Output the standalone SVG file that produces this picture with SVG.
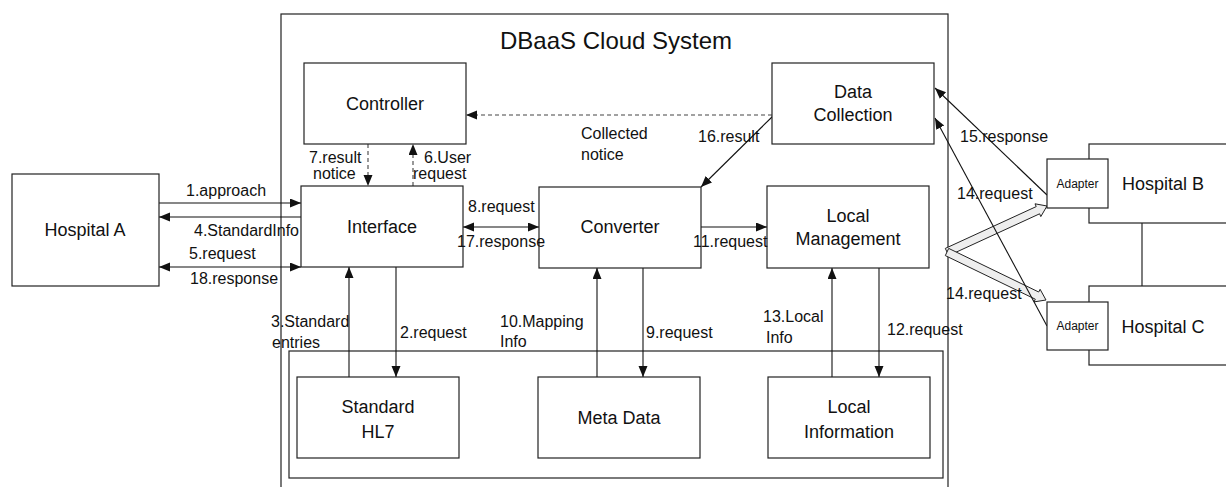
<svg xmlns="http://www.w3.org/2000/svg" width="1226" height="487" viewBox="0 0 1226 487">
  <style>
    .box { fill: #fff; stroke: #222; stroke-width: 1.2; }
    .frame { fill: none; stroke: #222; stroke-width: 1.2; }
    .ln { fill: none; stroke: #111; stroke-width: 1.1; }
    .dash { fill: none; stroke: #444; stroke-width: 1.1; stroke-dasharray: 4 3; }
    .fat { fill: #eeeeee; stroke: #222; stroke-width: 1; }
    .node { font-family: "Liberation Sans", Arial, sans-serif; font-size: 18px; fill: #111; text-anchor: middle; }
    .title { font-family: "Liberation Sans", Arial, sans-serif; font-size: 24px; fill: #111; }
    .lbl { font-family: "Liberation Sans", Arial, sans-serif; font-size: 16px; fill: #111; }
    .small { font-family: "Liberation Sans", Arial, sans-serif; font-size: 12px; fill: #111; text-anchor: middle; }
  </style>
  <defs>
    <marker id="arr" markerUnits="userSpaceOnUse" markerWidth="12" markerHeight="10" refX="11" refY="4.5" orient="auto-start-reverse">
      <path d="M0,0 L11,4.5 L0,9 z" fill="#111"/>
    </marker>
  </defs>

  <rect width="1226" height="487" fill="#fff"/>

  <!-- cloud system frame and storage container -->
  <g id="dbaas-system">
    <rect class="frame" x="281" y="14" width="667" height="490"/>
    <text class="title" x="500" y="49">DBaaS Cloud System</text>
  </g>
  <g id="storage">
    <rect class="frame" x="289" y="351" width="654" height="127"/>
  </g>

  <!-- connectors -->
  <g id="connectors">
    <!-- Hospital A <-> Interface -->
    <line class="ln" x1="159" y1="203" x2="301" y2="203" marker-end="url(#arr)"/>
    <line class="ln" x1="301" y1="217" x2="159" y2="217" marker-end="url(#arr)"/>
    <line class="ln" x1="159" y1="267" x2="301" y2="267" marker-start="url(#arr)" marker-end="url(#arr)"/>

    <!-- Controller <-> Interface -->
    <line class="dash" x1="368" y1="144" x2="368" y2="186" marker-end="url(#arr)"/>
    <line class="dash" x1="413" y1="186" x2="413" y2="144" marker-end="url(#arr)"/>

    <!-- Data Collection -> Controller / Converter -->
    <line class="dash" x1="772" y1="115" x2="466" y2="115" marker-end="url(#arr)"/>
    <line class="ln" x1="773" y1="116" x2="701" y2="187" marker-end="url(#arr)"/>

    <!-- Interface <-> Converter -> Local Management -->
    <line class="ln" x1="463" y1="227" x2="539" y2="227" marker-start="url(#arr)" marker-end="url(#arr)"/>
    <line class="ln" x1="701" y1="227" x2="767" y2="227" marker-end="url(#arr)"/>

    <!-- service boxes <-> storage boxes -->
    <line class="ln" x1="349" y1="377" x2="349" y2="267" marker-end="url(#arr)"/>
    <line class="ln" x1="396" y1="267" x2="396" y2="377" marker-end="url(#arr)"/>
    <line class="ln" x1="597" y1="377" x2="597" y2="268" marker-end="url(#arr)"/>
    <line class="ln" x1="643" y1="268" x2="643" y2="377" marker-end="url(#arr)"/>
    <line class="ln" x1="832" y1="377" x2="832" y2="268" marker-end="url(#arr)"/>
    <line class="ln" x1="879" y1="268" x2="879" y2="377" marker-end="url(#arr)"/>

    <!-- broadcast to remote adapters -->
    <polygon class="fat" points="948.7,255.6 1039.6,213.8 1040.8,216.6 1047,206 1035.0,203.8 1036.2,206.6 945.3,248.4"/>
    <polygon class="fat" points="945.3,255.6 1035.3,299.2 1034.0,301.9 1046,300 1040.1,289.3 1038.7,292.0 948.7,248.4"/>
    <line class="ln" x1="1047" y1="195" x2="935" y2="88" marker-end="url(#arr)"/>
    <line class="ln" x1="1047" y1="326" x2="935" y2="118" marker-end="url(#arr)"/>

    <!-- link between remote hospitals -->
    <line class="ln" x1="1142" y1="223" x2="1142" y2="286"/>
  </g>

  <!-- nodes -->
  <g id="hospital-a">
    <rect class="box" x="12" y="174" width="147" height="112"/>
    <text class="node" x="85" y="236">Hospital A</text>
  </g>
  <g id="controller">
    <rect class="box" x="304" y="63" width="162" height="81"/>
    <text class="node" x="385" y="110">Controller</text>
  </g>
  <g id="data-collection">
    <rect class="box" x="772" y="63" width="162" height="81"/>
    <text class="node" x="853" y="98">Data</text>
    <text class="node" x="853" y="121">Collection</text>
  </g>
  <g id="interface">
    <rect class="box" x="301" y="186" width="162" height="81"/>
    <text class="node" x="382" y="233">Interface</text>
  </g>
  <g id="converter">
    <rect class="box" x="539" y="187" width="162" height="81"/>
    <text class="node" x="620" y="233">Converter</text>
  </g>
  <g id="local-management">
    <rect class="box" x="767" y="186" width="162" height="82"/>
    <text class="node" x="848" y="222">Local</text>
    <text class="node" x="848" y="245">Management</text>
  </g>
  <g id="standard-hl7">
    <rect class="box" x="297" y="377" width="162" height="81"/>
    <text class="node" x="378" y="413">Standard</text>
    <text class="node" x="378" y="438">HL7</text>
  </g>
  <g id="meta-data">
    <rect class="box" x="538" y="377" width="162" height="81"/>
    <text class="node" x="619" y="424">Meta Data</text>
  </g>
  <g id="local-information">
    <rect class="box" x="768" y="377" width="162" height="81"/>
    <text class="node" x="849" y="413">Local</text>
    <text class="node" x="849" y="438">Information</text>
  </g>
  <g id="hospital-b">
    <rect class="box" x="1089" y="144" width="150" height="79"/>
    <text class="node" x="1163" y="190">Hospital B</text>
    <rect class="box" x="1047" y="159" width="61" height="49"/>
    <text class="small" x="1077.5" y="188">Adapter</text>
  </g>
  <g id="hospital-c">
    <rect class="box" x="1089" y="286" width="150" height="79"/>
    <text class="node" x="1163" y="333">Hospital C</text>
    <rect class="box" x="1047" y="302" width="61" height="48"/>
    <text class="small" x="1077.5" y="330">Adapter</text>
  </g>

  <!-- connector labels, drawn over the box outlines -->
  <g id="connector-labels">
    <text class="lbl" x="186" y="196">1.approach</text>
    <text class="lbl" x="194" y="236">4.StandardInfo</text>
    <text class="lbl" x="189" y="259">5.request</text>
    <text class="lbl" x="190" y="284">18.response</text>
    <text class="lbl" x="309" y="163">7.result</text>
    <text class="lbl" x="313" y="179">notice</text>
    <text class="lbl" x="424" y="163">6.User</text>
    <text class="lbl" x="413" y="179">request</text>
    <text class="lbl" x="581" y="139">Collected</text>
    <text class="lbl" x="581" y="160">notice</text>
    <text class="lbl" x="698" y="142">16.result</text>
    <text class="lbl" x="468" y="212">8.request</text>
    <text class="lbl" x="457" y="247">17.response</text>
    <text class="lbl" x="693" y="247">11.request</text>
    <text class="lbl" x="271" y="327">3.Standard</text>
    <text class="lbl" x="272" y="348">entries</text>
    <text class="lbl" x="400" y="338">2.request</text>
    <text class="lbl" x="500" y="327">10.Mapping</text>
    <text class="lbl" x="500" y="347">Info</text>
    <text class="lbl" x="646" y="338">9.request</text>
    <text class="lbl" x="763" y="322">13.Local</text>
    <text class="lbl" x="766" y="343">Info</text>
    <text class="lbl" x="887" y="335">12.request</text>
    <text class="lbl" x="960" y="142">15.response</text>
    <text class="lbl" x="957" y="199">14.request</text>
    <text class="lbl" x="946" y="299">14.request</text>
  </g>
</svg>
